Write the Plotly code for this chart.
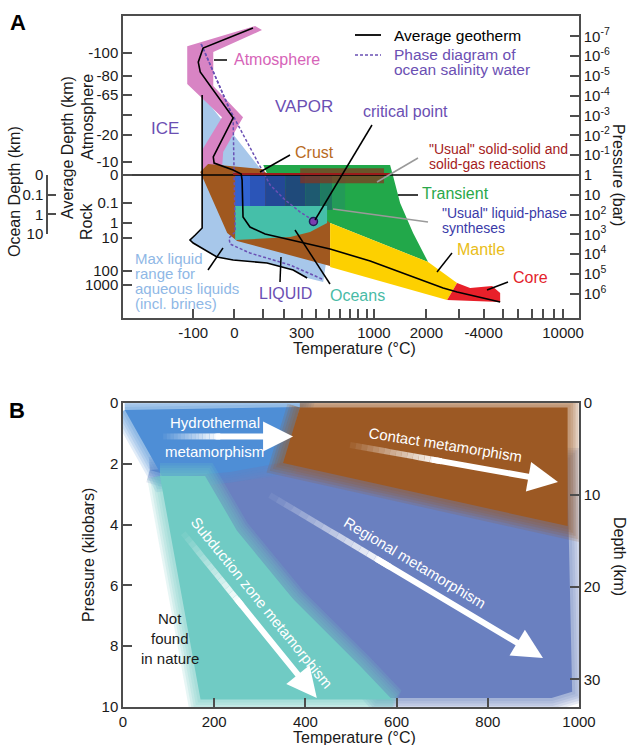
import plotly.graph_objects as go

W, H = 630, 745
FONT = "Liberation Sans, Arial, Helvetica, sans-serif"

# ================= Panel A data (temperature in °C, pressure in bar) =================
atm_T = [70, -111, -111, -35, -82, -82, -35, -32, 27, -57, -57, 97]
atm_P = [3.0e-8, 3.1e-7, 2.5e-5, 1.2e-3, 5.5e-2, 0.79, 0.44, 6.9e-2, 1.2e-3, 3.2e-5, 6.1e-7, 4.8e-8]

geo_T = [62, -80, -90, -86, -4, -57, -55, -4, 21, 24, 27, 51, 110, 291, 512, 948, 2460, 2916, 4856]
geo_P = [3.8e-8, 3.9e-7, 2.0e-6, 6.3e-6, 1.3e-3, 0.12, 0.25, 0.56, 0.89, 1.8, 132, 423, 955, 2420,
         5460, 2.2e4, 5.1e5, 8.1e5, 2.6e6]

liq_T = [-82, 97, 114, 232, 385, 478, 454, 336, 249, 118, -4, -48, -100, -106, -96, -82]
liq_P = [9.1e-5, 0.56, 1.12, 10.2, 210, 2.48e4, 2.54e5, 1.59e5, 6.3e4, 2.78e4, 1.96e4, 1.38e4,
         2720, 1920, 1070, 475]

maxliq_T = [-82, -82, -96, -106, -100, -48, -4, 118, 249, 336]
maxliq_P = [9.1e-5, 475, 1070, 1920, 2720, 1.38e4, 1.96e4, 2.78e4, 6.3e4, 1.59e5]

dashA_T = [-84, -4, -1, 2, -16, -13, 51, 232, 446]
dashA_P = [2.4e-7, 1.3e-3, 1.12, 757, 1520, 3050, 8700, 3.5e4, 1.8e5]
dashB_T = [-84, -13, 97, 132, 205, 291, 385]
dashB_P = [2.4e-7, 5.2e-4, 0.56, 3.2, 18.3, 74, 210]

crust_T = [-86, -69, 97, 123, 512, 512, 8, -21]
crust_P = [0.71, 0.28, 0.50, 1.0, 1.0, 3.9e4, 2150, 850]

green_T = [102, 1249, 1300, 1427, 1689, 2042, 512, 123]
green_P = [0.31, 0.31, 1.12, 25.9, 849, 2.48e4, 266, 1.12]

ocean_T = [2, 486, 486, 356, 232, 2]
ocean_P = [37, 37, 266, 757, 1350, 1920]

mantle_T = [512, 2042, 2916, 2583, 512]
mantle_P = [266, 2.48e4, 2.85e5, 2.06e6, 4.4e4]

core_T = [2916, 3408, 4420, 4856, 4856, 2583]
core_P = [2.85e5, 5.1e5, 4.0e5, 9.1e5, 2.6e6, 2.06e6]

synth_T_edges = [2, 51, 110, 205, 323, 430, 529, 653]
synth_colors = ["#3163d2", "#2b55b8", "#234896", "#1f4a7a", "#1e5a70", "#1f7a62", "#239a58"]
synth_P = [1.0, 58]

solid_T = [291, 1150]
solid_P = [0.45, 2.6]

surface_T = [-200, 12000]
surface_P = [1, 1]
redline_T = [-4, 1249]
redline_P = [0.89, 0.89]

crit_T = [380]
crit_P = [220]

A_xtick_T = [-100, 0, 300, 1000, 2000, 4000, 10000]
A_xtick_text = ["-100", "0", "300", "1000", "2000", "-4000", "10000"]
A_xminor_T = [100, 200, 400, 500, 600, 700, 800, 900, 3000, 5000, 6000, 7000, 8000, 9000]
A_left_P = [6.9e-7, 1.0e-5, 9.1e-5, 9.5e-3, 0.22, 1.0, 26, 266, 1520, 7.0e4, 3.6e5]
A_left_text = ["-100", "-80", "-65", "-20", "-10", "0", "0.1", "1", "10", "100", "1000"]
A_left_minor_P = [9.3e-4]
A_right_P = [1e-7, 1e-6, 1e-5, 1e-4, 1e-3, 1e-2, 1e-1, 1, 10, 1e2, 1e3, 1e4, 1e5, 1e6]
A_right_text = ["10<sup>-7</sup>", "10<sup>-6</sup>", "10<sup>-5</sup>", "10<sup>-4</sup>",
                "10<sup>-3</sup>", "10<sup>-2</sup>", "10<sup>-1</sup>", "1", "10",
                "10<sup>2</sup>", "10<sup>3</sup>", "10<sup>4</sup>", "10<sup>5</sup>", "10<sup>6</sup>"]
ocean_depth_P = [1, 10, 100, 1000]
ocean_depth_text = ["0", "0.1", "1", "10"]

# ================= Panel B data (temperature °C, pressure kbar) =================
hydro_T = [4, 388, 355, 235, 88]
hydro_P = [0.23, 0.13, 1.94, 2.27, 2.47]
regional_T = [59, 366, 974, 985, 940, 560, 150]
regional_P = [2.2, 1.8, 1.9, 9.5, 9.7, 9.7, 2.6]
subduct_T = [81, 180, 250, 373, 520, 590, 170]
subduct_P = [2.4, 2.4, 4.2, 6.45, 8.65, 9.75, 9.75]
contact_T = [388, 975, 975, 351]
contact_P = [0.15, 0.15, 4.05, 1.97]

arrow_tail_T = [88, 498, 322, 132]
arrow_tail_P = [1.1, 1.38, 3.03, 4.28]
arrow_head_T = [373, 954, 921, 425]
arrow_head_P = [1.1, 2.6, 8.39, 9.7]

B_xticks = [0, 200, 400, 600, 800, 1000]
B_yticks = [0, 2, 4, 6, 8, 10]
B_depth_ticks = [0, 10, 20, 30]

fig = go.Figure()


def K(ts):
    return [t + 273.15 for t in ts]


def polyA(T, P, color):
    xs = K(T) + [K(T)[0]]
    ys = P + [P[0]]
    fig.add_trace(go.Scatter(x=xs, y=ys, mode="lines", fill="toself", fillcolor=color,
                             line=dict(width=0, color=color), xaxis="x", yaxis="y",
                             hoverinfo="skip", showlegend=False))


def lineA(T, P, color, width=1.6, dash=None):
    fig.add_trace(go.Scatter(x=K(T), y=P, mode="lines", line=dict(color=color, width=width, dash=dash),
                             xaxis="x", yaxis="y", hoverinfo="skip", showlegend=False))


# --- Panel A layers ---
polyA(liq_T, liq_P, "#a7c7ea")
polyA(atm_T, atm_P, "#d884c4")
polyA(crust_T, crust_P, "#a0581f")
polyA(green_T, green_P, "#22a84a")
for i, c in enumerate(synth_colors):
    t0, t1 = synth_T_edges[i], synth_T_edges[i + 1]
    polyA([t0, t1, t1, t0], [synth_P[0], synth_P[0], synth_P[1], synth_P[1]], c)
polyA([solid_T[0], solid_T[1], solid_T[1], solid_T[0]],
      [solid_P[0], solid_P[0], solid_P[1], solid_P[1]], "rgba(135,50,28,0.7)")
polyA(ocean_T, ocean_P, "#45bfa9")
polyA(mantle_T, mantle_P, "#fdd000")
polyA(core_T, core_P, "#e8202a")

lineA(maxliq_T, maxliq_P, "black", 1.6)
lineA(dashB_T, dashB_P, "#6a50b4", 1.5, "3px,2px")
lineA(dashA_T, dashA_P, "#6a50b4", 1.5, "3px,2px")
lineA(surface_T, surface_P, "black", 1.6)
lineA(redline_T, redline_P, "#9b1b1b", 2)
lineA(geo_T, geo_P, "black", 1.6)
fig.add_trace(go.Scatter(x=K(crit_T), y=crit_P, mode="markers",
                         marker=dict(size=8, color="#7a3fb0", line=dict(color="#1d1d5a", width=1.5)),
                         xaxis="x", yaxis="y", hoverinfo="skip", showlegend=False))

# invisible traces for the extra axes
for ya, xa in [("y2", "x"), ("y5", "x"), ("y4", "x2")]:
    fig.add_trace(go.Scatter(x=[None], y=[None], mode="markers", xaxis=xa, yaxis=ya,
                             showlegend=False, hoverinfo="skip"))


# --- Panel B layers ---
def soft_poly(T, P, rgb):
    xs = T + [T[0]]
    ys = P + [P[0]]
    for w in [26, 21, 16, 11, 6]:
        fig.add_trace(go.Scatter(x=xs, y=ys, mode="lines",
                                 line=dict(width=w, color=f"rgba({rgb},0.17)"),
                                 xaxis="x2", yaxis="y3", hoverinfo="skip", showlegend=False))
    fig.add_trace(go.Scatter(x=xs, y=ys, mode="lines", fill="toself", fillcolor=f"rgb({rgb})",
                             line=dict(width=0, color=f"rgb({rgb})"), xaxis="x2", yaxis="y3",
                             hoverinfo="skip", showlegend=False))


soft_poly(regional_T, regional_P, "106,128,192")
soft_poly(hydro_T, hydro_P, "78,142,214")
soft_poly(subduct_T, subduct_P, "112,203,196")
soft_poly(contact_T, contact_P, "156,89,36")

for t0, p0, t1, p1 in zip(arrow_tail_T, arrow_tail_P, arrow_head_T, arrow_head_P):
    f_fade, f_arrow = 0.44, 0.38
    tm, pm = t0 + (t1 - t0) * f_fade, p0 + (p1 - p0) * f_fade
    ta, pa = t0 + (t1 - t0) * f_arrow, p0 + (p1 - p0) * f_arrow
    n = 16
    for i in range(n):
        a0, a1 = i / n, (i + 1) / n
        fig.add_trace(go.Scatter(x=[t0 + (tm - t0) * a0, t0 + (tm - t0) * a1],
                                 y=[p0 + (pm - p0) * a0, p0 + (pm - p0) * a1],
                                 mode="lines",
                                 line=dict(color=f"rgba(255,255,255,{(i + 1) / n:.3f})", width=6),
                                 xaxis="x2", yaxis="y3", hoverinfo="skip", showlegend=False))
    fig.add_annotation(x=t1, y=p1, ax=ta, ay=pa, xref="x2", yref="y3", axref="x2", ayref="y3",
                       showarrow=True, arrowhead=2, arrowsize=1.0, arrowwidth=6, arrowcolor="white",
                       text=" ", standoff=0, startstandoff=0)


# --- text helpers ---
def label(text, x, y, color="#1a1a1a", size=16, xanchor="center", angle=0, bold=False):
    fig.add_annotation(x=x / W, y=1 - y / H, xref="paper", yref="paper",
                       text=f"<b>{text}</b>" if bold else text, showarrow=False,
                       font=dict(family=FONT, size=size, color=color),
                       xanchor=xanchor, yanchor="middle", textangle=angle)


def leader(x0, y0, x1, y1, color="black", w=1.5, dash=None):
    fig.add_shape(type="line", xref="paper", yref="paper", x0=x0 / W, y0=1 - y0 / H,
                  x1=x1 / W, y1=1 - y1 / H, line=dict(color=color, width=w, dash=dash))


PURPLE = "#6b4fb3"
label("A", 18, 22, "black", 22, bold=True)
label("B", 17, 410, "black", 22, bold=True)

# legend (drawn by hand)
leader(355, 35, 381, 35, "black", 1.8)
leader(355, 55, 381, 55, "#6a50b4", 1.6, "3px,2px")
label("Average geotherm", 392, 35, "black", 15.5, "left")
label("Phase diagram of", 392, 54, PURPLE, 15.5, "left")
label("ocean salinity water", 392, 69, PURPLE, 15.5, "left")

label("Atmosphere", 232, 59, "#d664b8", 16, "left")
leader(214, 60, 227, 60)
label("VAPOR", 304, 107, PURPLE, 17)
label("ICE", 165, 128, PURPLE, 17)
label("critical point", 405, 112, PURPLE, 16)
leader(372, 125, 315, 220)
label("Crust", 314, 152, "#b86a1e", 16)
leader(290, 155, 260, 172)
label('"Usual" solid-solid and', 427, 149, "#a51c1c", 14, "left")
label("solid-gas reactions", 427, 164, "#a51c1c", 14, "left")
leader(418, 158, 377, 182, "#9a9a9a", 1.5)
label("Transient", 420, 194, "#2aa84a", 16, "left")
leader(398, 195, 418, 195)
label('"Usual" liquid-phase', 440, 213, "#3a3aa8", 14, "left")
label("syntheses", 440, 228, "#3a3aa8", 14, "left")
leader(428, 222, 333, 209, "#9a9a9a", 1.5)
label("Mantle", 455, 250, "#e9bd18", 16, "left")
leader(452, 253, 437, 272)
label("Core", 511, 278, "#e3232b", 16, "left")
leader(508, 282, 487, 290)
label("Oceans", 328, 296, "#48bba6", 16, "left")
leader(330, 284, 295, 230)
label("LIQUID", 257, 293, PURPLE, 16, "left")
leader(280, 282, 281, 257)
for i, s in enumerate(["Max liquid", "range for", "aqueous liquids", "(incl. brines)"]):
    label(s, 133, 258 + i * 15.3, "#8fb8e6", 15, "left")
leader(208, 270, 223, 248)

# axis titles panel A
label("Average Depth (km)", 68, 148, "#1a1a1a", 16, angle=-90)
label("Atmosphere", 87, 117, "#1a1a1a", 16, angle=-90)
label("Rock", 87, 222, "#1a1a1a", 16, angle=-90)
label("Ocean Depth (km)", 14, 192, "#1a1a1a", 16, angle=-90)
label("Pressure (bar)", 619, 175, "#1a1a1a", 16, angle=90)
label("Temperature (°C)", 354, 348, "#1a1a1a", 16)

# panel B texts
label("Hydrothermal", 215, 422, "white", 15)
label("metamorphism", 214, 451, "white", 15)
label("Contact metamorphism", 445, 444, "white", 15, angle=9)
label("Regional metamorphism", 415, 562, "white", 15, angle=31)
label("Subduction zone metamorphism", 262, 602, "white", 15, angle=51)
label("Not", 170, 618, "#1a1a1a", 15)
label("found", 170, 638, "#1a1a1a", 15)
label("in nature", 170, 658, "#1a1a1a", 15)
label("Pressure (kilobars)", 88, 555, "#1a1a1a", 16, angle=-90)
label("Depth (km)", 620, 556, "#1a1a1a", 16, angle=90)
label("Temperature (°C)", 354, 737, "#1a1a1a", 16)

AX = dict(showgrid=False, zeroline=False, showline=True, linecolor="#4d4d4d", linewidth=1.5,
          ticks="inside", ticklen=9, tickwidth=1.5, tickcolor="#4d4d4d", automargin=False,
          tickfont=dict(family=FONT, size=15, color="#1a1a1a"), tickmode="array")
MINOR = dict(ticks="inside", ticklen=9, tickwidth=1.5, tickcolor="#4d4d4d", showgrid=False)

xdom = [123 / W, 579 / W]
yA_range = [7.22, -8.03]

fig.update_layout(
    width=W, height=H, margin=dict(l=0, r=0, t=0, b=0, autoexpand=False),
    paper_bgcolor="white", plot_bgcolor="rgba(0,0,0,0)",
    font=dict(family=FONT, color="#1a1a1a"),
    showlegend=False,
    xaxis=dict(**AX, domain=xdom, anchor="y", type="log", range=[1.902, 4.088], mirror=True,
               tickvals=K(A_xtick_T), ticktext=A_xtick_text,
               minor=dict(**MINOR, tickmode="array", tickvals=K(A_xminor_T))),
    yaxis=dict(**AX, domain=[1 - 318 / H, 1 - 16 / H], anchor="x", type="log", range=yA_range,
               tickvals=A_left_P, ticktext=A_left_text,
               minor=dict(**MINOR, tickmode="array", tickvals=A_left_minor_P)),
    yaxis2=dict(**AX, overlaying="y", side="right", anchor="x", type="log", range=yA_range,
                tickvals=A_right_P, ticktext=A_right_text),
    yaxis5=dict(**dict(AX, ticklen=8), domain=[1 - 234 / H, 1 - 175 / H], anchor="free", position=47 / W,
                side="left", type="log", range=[3, 0], tickvals=ocean_depth_P, ticktext=ocean_depth_text),
    xaxis2=dict(**AX, domain=xdom, anchor="y3", range=[0, 1000], mirror=True,
                tickvals=B_xticks, ticktext=[str(v) for v in B_xticks]),
    yaxis3=dict(**AX, domain=[1 - 707 / H, 1 - 403 / H], anchor="x2", range=[10, 0],
                tickvals=B_yticks, ticktext=[str(v) for v in B_yticks]),
    yaxis4=dict(**AX, overlaying="y3", side="right", anchor="x2", range=[33, 0],
                tickvals=B_depth_ticks, ticktext=[str(v) for v in B_depth_ticks]),
)

fig.write_html("out.html")
